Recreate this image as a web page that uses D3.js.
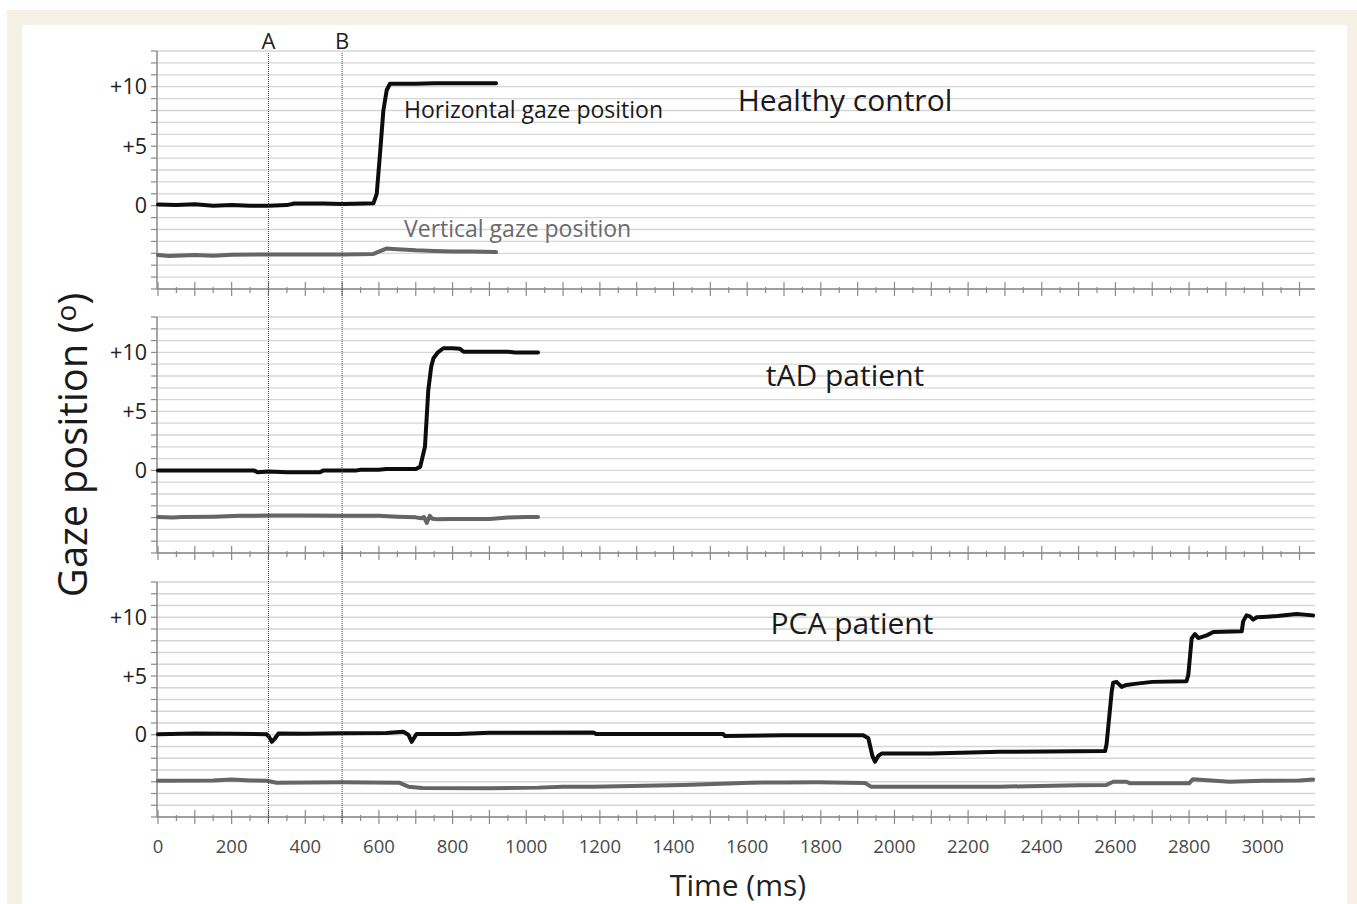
<!DOCTYPE html>
<html>
<head>
<meta charset="utf-8">
<script src="https://cdn.jsdelivr.net/npm/d3@7"></script>
<style>
  body { margin: 0; background: #fff; }
  text { font-family: "Open Sans", sans-serif; }
</style>
</head>
<body>
<svg id="chart" width="1357" height="904"></svg>
<script>
// panel titles
const panelNames = ["Healthy control", "tAD patient", "PCA patient"];

// gaze traces, [time ms, degrees]
const healthyHoriz = [[0,0.1],[50,0.05],[100,0.12],[150,0.0],[200,0.05],[250,0.0],[300,0.0],[350,0.05],[370,0.18],
  [450,0.18],[500,0.15],[560,0.18],[585,0.2],[594,1.0],[603,4.4],[612,8.0],[621,9.7],[630,10.25],
  [700,10.25],[750,10.3],[800,10.3],[860,10.3],[918,10.3]];
const healthyVert = [[0,-4.15],[30,-4.22],[100,-4.15],[150,-4.2],[200,-4.12],[300,-4.1],[400,-4.1],[500,-4.1],
  [585,-4.05],[605,-3.8],[620,-3.6],[650,-3.65],[700,-3.75],[750,-3.8],[800,-3.85],[850,-3.85],[918,-3.9]];

const tadHoriz = [[0,0],[100,0],[200,0],[260,0],[270,-0.15],[300,-0.1],[350,-0.15],[440,-0.15],[450,0],
  [500,0],[540,0],[550,0.05],[600,0.05],[620,0.12],[700,0.12],[712,0.3],[725,2.0],[734,6.8],[742,8.8],
  [748,9.5],[760,10.0],[775,10.35],[800,10.35],[820,10.3],[830,10.05],[900,10.05],[950,10.05],[970,10.0],[1032,10.0]];
const tadVert = [[0,-3.95],[40,-4.0],[65,-3.95],[150,-3.92],[222,-3.85],[300,-3.82],[400,-3.82],[500,-3.85],
  [600,-3.85],[650,-3.92],[700,-3.98],[715,-4.05],[722,-3.95],[730,-4.45],[738,-3.85],[745,-4.1],[760,-4.15],
  [800,-4.12],[900,-4.12],[950,-4.0],[1000,-3.95],[1032,-3.95]];

const pcaHoriz = [[0,0.05],[100,0.1],[200,0.08],[295,0.05],[302,-0.2],[309,-0.6],[318,-0.3],[327,0.1],
  [400,0.08],[500,0.12],[620,0.15],[666,0.25],[680,0.0],[689,-0.6],[702,0.06],[815,0.06],[900,0.17],
  [1182,0.2],[1190,0.06],[1535,0.06],[1540,-0.11],[1700,-0.05],[1915,-0.05],[1929,-0.3],[1940,-1.8],
  [1947,-2.3],[1956,-1.8],[1965,-1.6],[2100,-1.6],[2286,-1.45],[2500,-1.4],[2572,-1.38],[2576,-0.8],
  [2590,3.7],[2594,4.43],[2603,4.5],[2617,4.07],[2630,4.24],[2658,4.35],[2700,4.5],[2793,4.55],[2798,5.1],
  [2807,8.2],[2816,8.57],[2825,8.23],[2848,8.46],[2866,8.74],[2943,8.8],[2947,9.65],[2956,10.16],[2965,10.08],
  [2974,9.8],[2984,10.0],[3040,10.1],[3092,10.28],[3137,10.16]];
const pcaVert = [[0,-3.91],[150,-3.9],[200,-3.8],[250,-3.9],[295,-3.91],[322,-4.08],[500,-4.05],[655,-4.08],
  [680,-4.42],[718,-4.53],[900,-4.55],[1033,-4.5],[1100,-4.42],[1182,-4.42],[1427,-4.28],[1608,-4.08],
  [1700,-4.06],[1788,-4.05],[1920,-4.1],[1936,-4.42],[2100,-4.42],[2286,-4.42],[2500,-4.3],[2575,-4.28],
  [2594,-4.0],[2630,-4.0],[2640,-4.13],[2800,-4.13],[2810,-3.79],[2910,-4.0],[3000,-3.92],[3100,-3.9],[3137,-3.8]];

const traces = [[healthyHoriz, healthyVert], [tadHoriz, tadVert], [pcaHoriz, pcaVert]];

// axis ticks
const xMajorTicks = d3.range(0, 3101, 100);
const xMinorTicks = d3.range(50, 3101, 100);
const xTickLabels = d3.range(0, 3001, 200);
const yGridValues = d3.range(-7, 14, 1);
const yTickValues = [10, 5, 0];
const yTickLabels = ["+10", "+5", "0"];
const markerTimes = [300, 500];
const markerLabels = ["A", "B"];

const svg = d3.select("#chart");

// framed background
svg.append("rect").attr("x", 7).attr("y", 10).attr("width", 1350).attr("height", 894).attr("fill", "#f5f1e4");
svg.append("rect").attr("x", 22).attr("y", 25).attr("width", 1325).attr("height", 879).attr("fill", "#fff");

const x = d3.scaleLinear().domain([0, 3142]).range([158, 1315]);

// pixel extents of each panel (bottom, top)
const panelRanges = [[289, 51], [553, 317], [817, 582]];
const titleX = [845, 845, 852];
const titleY = [111, 386, 634];

panelRanges.forEach((r, i) => {
  const y = d3.scaleLinear().domain([-7, 13]).range(r);
  const g = svg.append("g");

  // grid
  g.selectAll(".grid").data(yGridValues).join("line")
    .attr("x1", x(0) - 1).attr("x2", x.range()[1])
    .attr("y1", d => y(d)).attr("y2", d => y(d))
    .attr("stroke", "#d6d6d6").attr("stroke-width", 1.3);

  // y axis
  g.append("line").attr("x1", x(0) - 1).attr("x2", x(0) - 1)
    .attr("y1", y(13)).attr("y2", y(-7))
    .attr("stroke", "#8a8a8a").attr("stroke-width", 1.5);
  g.selectAll(".ytick").data(yGridValues).join("line")
    .attr("x1", x(0) - 7).attr("x2", x(0) - 1)
    .attr("y1", d => y(d)).attr("y2", d => y(d))
    .attr("stroke", "#8a8a8a").attr("stroke-width", 1.2);
  g.selectAll(".ylab").data(yTickValues).join("text")
    .attr("x", x(0) - 11).attr("y", d => y(d)).attr("dy", "0.36em")
    .attr("text-anchor", "end").attr("font-size", 21.5).attr("fill", "#222")
    .text((d, j) => yTickLabels[j]);

  // x axis
  g.append("line").attr("x1", x(0) - 1).attr("x2", x.range()[1])
    .attr("y1", y(-7)).attr("y2", y(-7))
    .attr("stroke", "#8a8a8a").attr("stroke-width", 1.5);
  g.selectAll(".xmaj").data(xMajorTicks).join("line")
    .attr("x1", d => x(d)).attr("x2", d => x(d))
    .attr("y1", y(-7) - 7).attr("y2", y(-7) + 7)
    .attr("stroke", "#8a8a8a").attr("stroke-width", 1.2);
  g.selectAll(".xmin").data(xMinorTicks).join("line")
    .attr("x1", d => x(d)).attr("x2", d => x(d))
    .attr("y1", y(-7) - 2).attr("y2", y(-7) + 4)
    .attr("stroke", "#8a8a8a").attr("stroke-width", 1.2);

  if (i === 2) {
    g.selectAll(".xlab").data(xTickLabels).join("text")
      .attr("x", d => x(d)).attr("y", 853)
      .attr("text-anchor", "middle").attr("font-size", 18.5).attr("fill", "#4a4a4a")
      .text(d => d);
  }

  // traces
  const line = d3.line().x(d => x(d[0])).y(d => y(d[1]));
  g.append("path").datum(traces[i][1]).attr("d", line)
    .attr("fill", "none").attr("stroke", "#656565").attr("stroke-width", 4)
    .attr("stroke-linejoin", "round").attr("stroke-linecap", "round");
  g.append("path").datum(traces[i][0]).attr("d", line)
    .attr("fill", "none").attr("stroke", "#0d0d0d").attr("stroke-width", 4)
    .attr("stroke-linejoin", "round").attr("stroke-linecap", "round");

  g.append("text").attr("x", titleX[i]).attr("y", titleY[i])
    .attr("text-anchor", "middle").attr("font-size", 30).attr("fill", "#1a1a1a")
    .text(panelNames[i]);
});

// series labels in first panel
svg.append("text").attr("x", 404).attr("y", 118).attr("font-size", 23).attr("fill", "#1a1a1a")
  .text("Horizontal gaze position");
svg.append("text").attr("x", 404).attr("y", 237).attr("font-size", 23).attr("fill", "#6a6a6a")
  .text("Vertical gaze position");

// A / B marker lines
svg.selectAll(".marker").data(markerTimes).join("line")
  .attr("x1", d => x(d)).attr("x2", d => x(d))
  .attr("y1", 53).attr("y2", 823)
  .attr("stroke", "#444").attr("stroke-width", 1).attr("stroke-dasharray", "1,1");
svg.selectAll(".mlab").data(markerTimes).join("text")
  .attr("x", d => x(d)).attr("y", 49)
  .attr("text-anchor", "middle").attr("font-size", 22).attr("fill", "#222")
  .text((d, i) => markerLabels[i]);

// axis titles
svg.append("text").attr("x", 738).attr("y", 896)
  .attr("text-anchor", "middle").attr("font-size", 30).attr("fill", "#222")
  .text("Time (ms)");
const yt = svg.append("text").attr("transform", "translate(87,445) rotate(-90)")
  .attr("text-anchor", "middle").attr("font-size", 40).attr("fill", "#1a1a1a");
yt.append("tspan").text("Gaze position (");
yt.append("tspan").attr("font-size", 28).attr("baseline-shift", "40%").text("o");
yt.append("tspan").text(")");
</script>
</body>
</html>
